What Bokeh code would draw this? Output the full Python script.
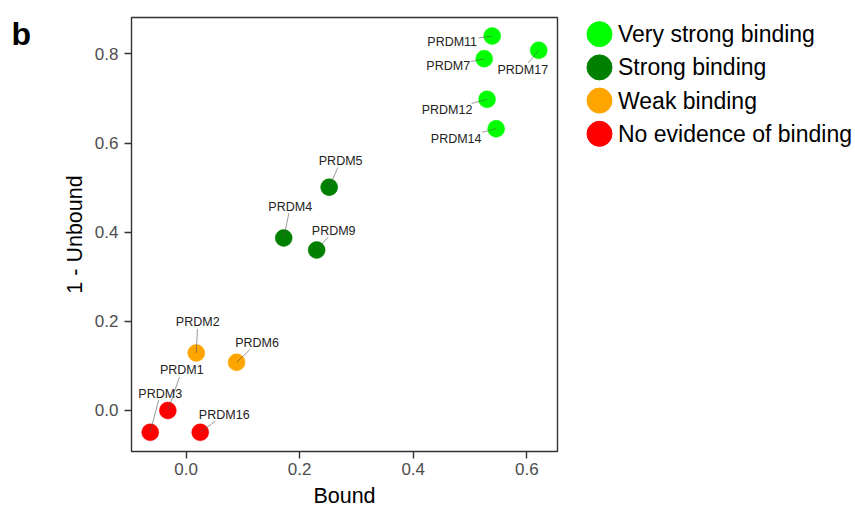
from bokeh.plotting import figure
from bokeh.models import Range1d, FixedTicker, PrintfTickFormatter, ColumnDataSource
from bokeh.layouts import row
from bokeh.embed import file_html
from bokeh.resources import INLINE
from bokeh.core.properties import value

# ---------------- data ----------------
names = ["PRDM11", "PRDM7", "PRDM17", "PRDM12", "PRDM14",
         "PRDM5", "PRDM4", "PRDM9",
         "PRDM2", "PRDM6",
         "PRDM1", "PRDM3", "PRDM16"]
bound = [0.539, 0.525, 0.621, 0.530, 0.546,
         0.252, 0.172, 0.230,
         0.018, 0.089,
         -0.032, -0.063, 0.025]
one_minus_unbound = [0.840, 0.789, 0.808, 0.698, 0.632,
                     0.501, 0.387, 0.360,
                     0.129, 0.108,
                     0.000, -0.049, -0.049]
category = ["Very strong binding"] * 5 + ["Strong binding"] * 3 + \
           ["Weak binding"] * 2 + ["No evidence of binding"] * 3

categories = ["Very strong binding", "Strong binding", "Weak binding", "No evidence of binding"]
cat_colors = ["#00FF00", "#008000", "#FFA500", "#FF0000"]

x_ticks = [0.0, 0.2, 0.4, 0.6]
y_ticks = [0.0, 0.2, 0.4, 0.6, 0.8]

# label placement (pixel offsets of label centre from point, screen y down)
label_dx = [-40, -36, -16, -40, -40, 11.5, 6.5, 17, 1.5, 20.5, 14, 10, 24]
label_dy = [6, 7.4, 19.3, 10.6, 10, -26, -31.3, -19.3, -30.6, -19.6, -40, -38.7, -17.7]

# ---------------- layout constants ----------------
FONT = "Liberation Sans"
H = 510
X0, X1 = -0.096, 0.654
Y0, Y1 = -0.092, 0.8816
B_W = 40
FRAME_W, FRAME_H = 426, 434
MB_L, MB_T, MB_R = 131 - B_W, 17, 10
MB_B = H - MB_T - FRAME_H
PXX = FRAME_W / (X1 - X0)
PXY = FRAME_H / (Y1 - Y0)


def no_align(fig):
    try:
        fig.frame_align = False
    except Exception:
        pass


cmap = dict(zip(categories, cat_colors))
colors = [cmap[c] for c in category]

# ---------------- panel letter ----------------
bfig = figure(width=B_W, height=H, x_range=Range1d(0, B_W), y_range=Range1d(H, 0),
              output_backend="svg", toolbar_location=None,
              x_axis_location=None, y_axis_location=None,
              min_border=0, min_border_left=0, min_border_right=0,
              min_border_top=0, min_border_bottom=0)
no_align(bfig)
bfig.grid.visible = False
bfig.outline_line_color = None
bfig.text(x=[11.0], y=[33.3], text=["b"], text_align="left", text_baseline="alphabetic",
          text_font=value(FONT), text_font_size="32px", text_font_style="bold",
          text_color="black")

# ---------------- main scatter ----------------
p = figure(width=MB_L + FRAME_W + MB_R, height=H,
           x_range=Range1d(X0, X1), y_range=Range1d(Y0, Y1),
           output_backend="svg", toolbar_location=None,
           min_border_left=MB_L, min_border_right=MB_R,
           min_border_top=MB_T, min_border_bottom=MB_B)
no_align(p)
p.grid.visible = False
p.outline_line_color = "#333333"
p.outline_line_width = 1.4
p.background_fill_color = "white"
p.border_fill_color = "white"

for ax, ticks in ((p.xaxis, x_ticks), (p.yaxis, y_ticks)):
    ax.ticker = FixedTicker(ticks=ticks)
    ax.formatter = PrintfTickFormatter(format="%.1f")
    ax.axis_line_color = None
    ax.major_tick_in = 0
    ax.major_tick_out = 7
    ax.major_tick_line_color = "#333333"
    ax.major_tick_line_width = 1.4
    ax.minor_tick_line_color = None
    ax.major_label_text_font = FONT
    ax.major_label_text_font_size = "17px"
    ax.major_label_text_color = "#4d4d4d"
    ax.axis_label_text_font = FONT
    ax.axis_label_text_font_size = "21.5px"
    ax.axis_label_text_font_style = "normal"
    ax.axis_label_text_color = "black"

p.xaxis.major_label_standoff = 4
p.yaxis.major_label_standoff = 6
p.xaxis.axis_label = "Bound"
p.xaxis.axis_label_standoff = 6
p.yaxis.axis_label = "1 - Unbound"
p.yaxis.axis_label_standoff = 5

src = ColumnDataSource(dict(x=bound, y=one_minus_unbound, name=names, color=colors,
                            dx=label_dx, dy=label_dy))
p.scatter("x", "y", source=src, size=17, fill_color="color", line_color="color",
          line_width=0.5)

# leader segments: from point toward label box edge
char_w = {"P": 0.667, "R": 0.722, "D": 0.722, "M": 0.833}
LFS = 12.5
sx0, sy0, sx1, sy1 = [], [], [], []
for xv, yv, n, dx, dy in zip(bound, one_minus_unbound, names, label_dx, label_dy):
    hw = sum(char_w.get(ch, 0.556) for ch in n) * LFS / 2 + 1
    hh = 6.5
    t = max(0.0, 1 - hw / abs(dx) if dx else 0.0, 1 - hh / abs(dy) if dy else 0.0)
    sx0.append(xv)
    sy0.append(yv)
    sx1.append(xv + t * dx / PXX)
    sy1.append(yv - t * dy / PXY)
p.segment(sx0, sy0, sx1, sy1, line_color="#555555", line_width=0.6)

p.text("x", "y", text="name", source=src, x_offset="dx", y_offset="dy",
       text_align="center", text_baseline="middle",
       text_font=value(FONT), text_font_size=f"{LFS}px", text_color="#222222")

# ---------------- legend panel ----------------
LW = 285
ROW0, ROWSTEP = 33.7 - MB_T, 33.2
leg = figure(width=LW, height=H, x_range=Range1d(0, LW),
             y_range=Range1d((FRAME_H - ROW0) / ROWSTEP, -ROW0 / ROWSTEP),
             output_backend="svg", toolbar_location=None,
             x_axis_location=None, y_axis_location=None,
             min_border=0, min_border_left=0, min_border_right=0,
             min_border_top=MB_T, min_border_bottom=MB_B)
no_align(leg)
leg.grid.visible = False
leg.outline_line_color = None
leg.border_fill_color = "white"
idx = list(range(len(categories)))
leg_src = ColumnDataSource(dict(i=idx, cat=categories, color=cat_colors,
                                cx=[32] * len(idx), tx=[50.5] * len(idx)))
leg.scatter("cx", "i", source=leg_src, size=25, fill_color="color", line_color="color")
leg.text("tx", "i", text="cat", source=leg_src, text_align="left", text_baseline="middle",
         text_font=value(FONT), text_font_size="23px", text_color="black")

layout = row(bfig, p, leg)
open("out.html", "w").write(file_html(layout, INLINE))
